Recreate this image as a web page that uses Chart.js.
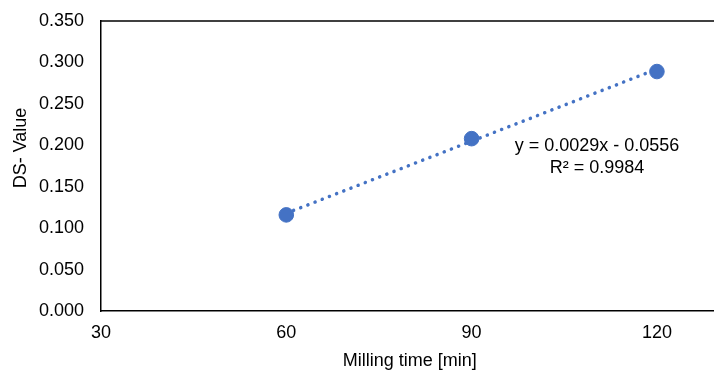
<!DOCTYPE html>
<html><head><meta charset="utf-8">
<script src="https://cdn.jsdelivr.net/npm/chart.js@4.4.0/dist/chart.umd.min.js"></script>
<style>html,body{margin:0;padding:0;background:#fff;overflow:hidden;width:714px;height:372px}</style>
</head><body>
<canvas id="c" width="727" height="372"></canvas>
<script>
const millingTime = [60, 90, 120];
const dsValue = [0.116, 0.208, 0.289];
const trendX = [60, 120];
const trendY = [0.118, 0.292];
const xTicks = [30, 60, 90, 120];
const yTicks = [0, 0.05, 0.1, 0.15, 0.2, 0.25, 0.3, 0.35];
const eqLines = ['y = 0.0029x - 0.0556', 'R\u00B2 = 0.9984'];
const xTitle = 'Milling time [min]';
const yTitle = 'DS- Value';

const FONT = "'Liberation Sans', Arial, sans-serif";
const BLUE = '#4472C4';

const extras = {
  id: 'extras',
  afterDraw(chart) {
    const {ctx, chartArea: a, scales} = chart;
    ctx.save();
    ctx.strokeStyle = '#000';
    ctx.lineWidth = 1.5;
    ctx.beginPath();
    ctx.moveTo(a.left, a.top);
    ctx.lineTo(a.right, a.top);
    ctx.stroke();
    ctx.fillStyle = '#000';
    ctx.font = '18px ' + FONT;
    ctx.textAlign = 'center';
    ctx.textBaseline = 'middle';
    ctx.translate(21, a.top + 127);
    ctx.rotate(-Math.PI / 2);
    ctx.fillText(yTitle, 0, 0);
    ctx.restore();
    ctx.save();
    ctx.fillStyle = '#000';
    ctx.font = '18px ' + FONT;
    ctx.textAlign = 'center';
    ctx.textBaseline = 'middle';
    const cx = scales.x.getPixelForValue(110.3);
    const cy = scales.y.getPixelForValue(0.199);
    ctx.fillText(eqLines[0], cx, cy);
    ctx.fillText(eqLines[1], cx, cy + 22);
    ctx.restore();
  }
};

new Chart(document.getElementById('c'), {
  type: 'scatter',
  data: {
    datasets: [
      {
        data: millingTime.map((x, i) => ({x, y: dsValue[i]})),
        backgroundColor: BLUE,
        borderColor: BLUE,
        pointRadius: 7.3,
        pointHoverRadius: 7.3,
        showLine: false
      },
      {
        data: trendX.map((x, i) => ({x, y: trendY[i]})),
        showLine: true,
        borderColor: BLUE,
        borderWidth: 3.5,
        borderDash: [0.1, 7.6],
        borderCapStyle: 'round',
        pointRadius: 0,
        fill: false
      }
    ]
  },
  options: {
    responsive: false,
    animation: false,
    devicePixelRatio: 1,
    layout: {padding: {left: 10, top: 21, right: 0, bottom: 0}},
    plugins: {legend: {display: false}, tooltip: {enabled: false}},
    scales: {
      x: {
        type: 'linear',
        min: 30,
        max: 130,
        afterBuildTicks: s => { s.ticks = xTicks.map(v => ({value: v})); },
        afterFit: s => { s.height = 61; s.paddingLeft = 0; s.paddingRight = 0; },
        grid: {display: false, drawTicks: false},
        border: {display: true, color: '#000', width: 1.5},
        ticks: {color: '#000', font: {family: FONT, size: 18}, padding: 11, maxRotation: 0},
        title: {display: true, text: xTitle, color: '#000', font: {family: FONT, size: 18}, padding: {top: 0, bottom: 0}}
      },
      y: {
        min: 0,
        max: 0.35,
        afterBuildTicks: s => { s.ticks = yTicks.map(v => ({value: v})); },
        afterFit: s => { s.width = 91; s.paddingTop = 0; s.paddingBottom = 0; },
        grid: {display: false, drawTicks: false},
        border: {display: true, color: '#000', width: 1.5},
        ticks: {color: '#000', font: {family: FONT, size: 18}, padding: 17, callback: v => Number(v).toFixed(3)}
      }
    }
  },
  plugins: [extras]
});
</script>
</body></html>
